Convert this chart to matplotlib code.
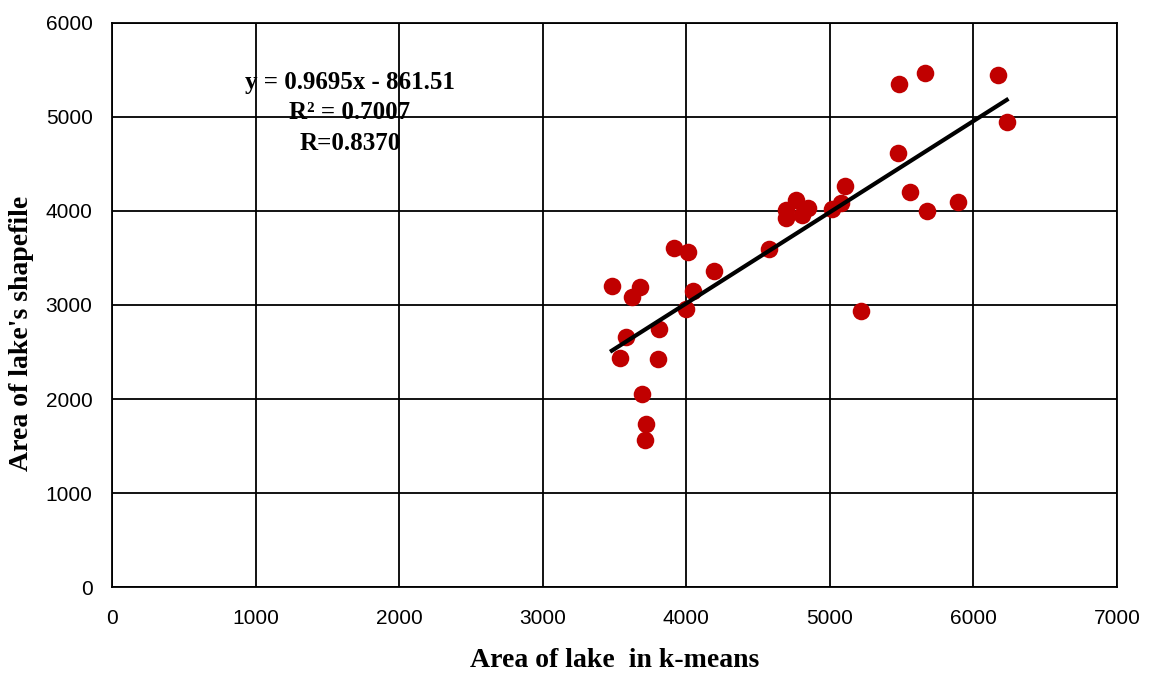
import numpy as np
import matplotlib.pyplot as plt

# area of lake from k-means vs area from shapefile
kmeans_area = [3482, 3538, 3579, 3621, 3677, 3691, 3719, 3712, 3809, 3802,
               3914, 4011, 4046, 3997, 4192, 4575, 4694, 4694, 4763, 4805,
               4847, 5014, 5077, 5104, 5216, 5480, 5474, 5557, 5675, 5661,
               5891, 6170, 6233]
shapefile_area = [3202, 2436, 2660, 3085, 3191, 2053, 1734, 1564, 2745, 2426,
                  3606, 3564, 3149, 2957, 3362, 3596, 4011, 3926, 4117, 3957,
                  4032, 4021, 4085, 4266, 2936, 5351, 4617, 4202, 4000, 5468,
                  4096, 5447, 4947]
slope = 0.9695
intercept = -861.51

fig = plt.figure(figsize=(11.49, 6.74), dpi=100)
ax = fig.add_axes([0.0975, 0.129, 0.8745, 0.837])

ax.scatter(kmeans_area, shapefile_area, s=160, color="#C00000", zorder=3, linewidths=0)
xl = np.array([min(kmeans_area), max(kmeans_area)])
ax.plot(xl, slope * xl + intercept, color="black", linewidth=3, zorder=4)

ax.set_xlim(0, 7000)
ax.set_ylim(0, 6000)
ax.set_xticks(range(0, 7001, 1000))
ax.set_yticks(range(0, 6001, 1000))
ax.grid(True, color="black", linewidth=1.3)
ax.set_axisbelow(True)
for sp in ax.spines.values():
    sp.set_color("black")
    sp.set_linewidth(1.3)
ax.tick_params(length=0, labelsize=15)
ax.tick_params(axis="x", pad=16)
ax.tick_params(axis="y", pad=14)
for lab in ax.get_xticklabels() + ax.get_yticklabels():
    lab.set_fontfamily("Liberation Sans")

ax.text(1657, 5043, "y = 0.9695x - 861.51\nR² = 0.7007\nR=0.8370",
        ha="center", va="center", multialignment="center",
        fontsize=18, fontweight="bold", family="Liberation Serif", linespacing=1.4)

ax.set_xlabel("Area of lake  in k-means", fontsize=20, fontweight="bold",
              family="Liberation Serif", labelpad=14)
ax.set_ylabel("Area of lake's shapefile", fontsize=20, fontweight="bold",
              family="Liberation Serif")
ax.yaxis.set_label_coords(-0.078, 0.45)

fig.savefig("out.png", dpi=100)
